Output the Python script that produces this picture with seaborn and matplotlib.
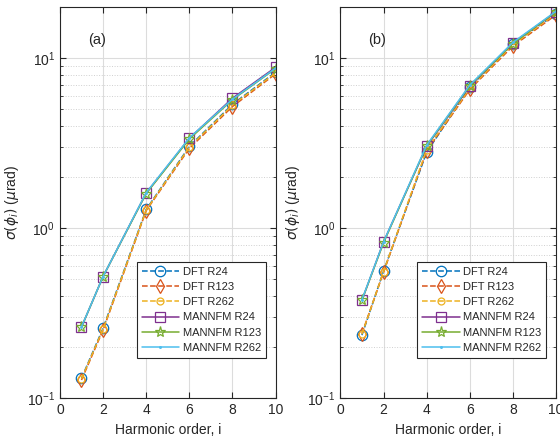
import matplotlib
matplotlib.use("Agg")
import matplotlib.pyplot as plt
import matplotlib.ticker as mticker
import seaborn as sns

harmonics = [1, 2, 4, 6, 8, 10]

# panel (a)
a_dft_r24 = [0.131, 0.258, 1.29, 3.03, 5.36, 8.28]
a_dft_r123 = [0.128, 0.252, 1.27, 2.95, 5.20, 8.10]
a_dft_r262 = [0.130, 0.255, 1.28, 3.00, 5.30, 8.20]
a_mann_r24 = [0.262, 0.52, 1.61, 3.38, 5.82, 8.85]
a_mann_r123 = [0.262, 0.52, 1.60, 3.35, 5.70, 8.70]
a_mann_r262 = [0.263, 0.52, 1.62, 3.40, 5.75, 8.75]

# panel (b)
b_dft_r24 = [0.235, 0.558, 2.80, 6.74, 12.2, 18.2]
b_dft_r123 = [0.240, 0.550, 2.85, 6.55, 11.8, 18.0]
b_dft_r262 = [0.238, 0.555, 2.90, 6.65, 12.0, 18.3]
b_mann_r24 = [0.377, 0.83, 3.03, 6.84, 12.3, 18.7]
b_mann_r123 = [0.377, 0.82, 3.05, 6.90, 12.2, 18.8]
b_mann_r262 = [0.380, 0.83, 3.08, 6.95, 12.4, 18.9]

labels = ["DFT R24", "DFT R123", "DFT R262", "MANNFM R24", "MANNFM R123", "MANNFM R262"]
colors = ["#0072BD", "#D95319", "#EDB120", "#7E2F8E", "#77AC30", "#4DBEEE"]
styles = [("--", "o", 7.5), ("--", "d", 7), ("--", "o", 5),
          ("-", "s", 6.5), ("-", "*", 8), ("-", ".", 2.5)]

sns.set_style("ticks")
plt.rcParams["font.family"] = ["Liberation Sans", "DejaVu Sans"]
plt.rcParams["mathtext.fontset"] = "dejavusans"

fig, axes = plt.subplots(1, 2, figsize=(5.6, 4.41), dpi=100)
panels = [
    ("(a)", [a_dft_r24, a_dft_r123, a_dft_r262, a_mann_r24, a_mann_r123, a_mann_r262]),
    ("(b)", [b_dft_r24, b_dft_r123, b_dft_r262, b_mann_r24, b_mann_r123, b_mann_r262]),
]

for ax, (tag, series) in zip(axes, panels):
    for vals, lab, col, (ls, mk, ms) in zip(series, labels, colors, styles):
        line_kw = dict(dashes=(5, 3)) if ls == "--" else {}
        sns.lineplot(x=harmonics, y=vals, ax=ax, color=col, linestyle=ls, linewidth=1.1,
                     marker=mk, markersize=ms, markerfacecolor="none",
                     markeredgecolor=col, markeredgewidth=0.9, label=lab, **line_kw)
    ax.set_yscale("log")
    ax.set_xlim(0, 10)
    ax.set_ylim(0.1, 20)
    ax.set_xticks([0, 2, 4, 6, 8, 10])
    ax.yaxis.set_minor_locator(mticker.LogLocator(base=10, subs=range(2, 10), numticks=20))
    ax.yaxis.set_minor_formatter(mticker.NullFormatter())
    ax.grid(True, which="major", color="#dcdcdc", linewidth=0.8, linestyle="-")
    ax.grid(True, which="minor", axis="y", color="#d0d0d0", linewidth=0.7, linestyle=":")
    ax.set_axisbelow(True)
    for sp in ax.spines.values():
        sp.set_visible(True)
        sp.set_color("#262626")
        sp.set_linewidth(0.8)
    ax.tick_params(which="both", direction="in", top=True, right=True, labelsize=10,
                   colors="#262626")
    ax.tick_params(which="major", length=4)
    ax.tick_params(which="minor", length=2)
    ax.set_xlabel("Harmonic order, i", fontsize=10, color="#262626")
    ax.set_ylabel(r"$\sigma(\phi_i)$ ($\mu$rad)", fontsize=10, color="#262626")
    ax.text(0.13, 0.905, tag, transform=ax.transAxes, fontsize=10.5)
    leg = ax.legend(loc="lower right", bbox_to_anchor=(0.955, 0.103), fontsize=8,
                    frameon=True, fancybox=False, framealpha=1, edgecolor="#262626",
                    handlelength=3.4, borderpad=0.45, labelspacing=0.47, handletextpad=0.3,
                    borderaxespad=0)
    leg.get_frame().set_linewidth(0.8)

fig.subplots_adjust(left=0.107, right=0.993, bottom=0.097, top=0.984, wspace=0.3)
fig.savefig("out.png", dpi=100)
